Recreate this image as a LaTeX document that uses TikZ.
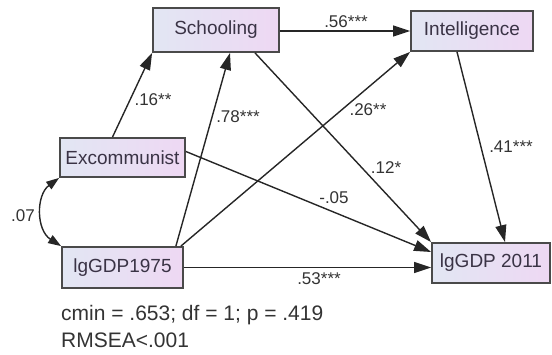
\documentclass[tikz,border=0pt]{standalone}
\usepackage{fontspec}
\setmainfont{Liberation Sans}
\usetikzlibrary{arrows.meta,calc}
\definecolor{boxl}{HTML}{E2E6F3}
\definecolor{boxr}{HTML}{EED8F3}
\definecolor{boxline}{HTML}{4A4A4A}
\definecolor{boxtext}{HTML}{3A3345}
\definecolor{labtext}{HTML}{333333}
\begin{document}
\begin{tikzpicture}[x=1pt,y=-1pt,
  var/.style={draw=boxline, line width=1.8pt, left color=boxl, right color=boxr,
    text=boxtext, font=\fontsize{19}{21}\selectfont, inner sep=0pt},
  path/.style={line width=1.4pt, draw=black!85, -{Triangle[length=17pt,width=11pt]}},
  cov/.style={line width=1.4pt, draw=black!85, {Triangle[length=13pt,width=9pt]}-{Triangle[length=13pt,width=9pt]}},
  lab/.style={text=labtext, font=\fontsize{17}{19}\selectfont, inner sep=0pt},
  fit/.style={text=labtext, font=\fontsize{21}{23}\selectfont, inner sep=0pt, anchor=west}]
\useasboundingbox (0,0) rectangle (552,354);
\node[var, minimum width=126pt, minimum height=44pt] (sch) at (216,30) {Schooling};
\node[var, minimum width=122pt, minimum height=40pt] (int) at (472,31) {Intelligence};
\node[var, minimum width=125pt, minimum height=39pt] (ex) at (122.5,157.5) {Excommunist};
\node[var, minimum width=121pt, minimum height=41pt] (g75) at (122.5,267.5) {lgGDP1975};
\node[var, minimum width=118pt, minimum height=40pt] (g11) at (491,263) {lgGDP 2011};

\draw[path] ([xshift=-10pt]ex.north) -- (sch.south west);
\draw[path] ([xshift=-8pt]g75.north east) -- ([xshift=14pt]sch.south);
\draw[path] ([xshift=-3pt]g75.north east) -- (int.south west);
\draw[path] (sch.east |- int.west) -- (int.west);
\draw[path] ([xshift=39pt]sch.south) -- (g11.north west);
\draw[path] ([xshift=-15pt]int.south) -- ([xshift=14pt]g11.north);
\draw[path] ([yshift=6pt]ex.east) -- ([yshift=11pt]g11.west);
\draw[path] (g75.east) -- (g75.east -| g11.west);
\draw[cov] (ex.south west) .. controls (36,195) and (36,230) .. (g75.north west);

\node[lab] (l16) at (153,100) {.16**};
\node[lab] (l78) at (238,117) {.78***};
\node[lab] (l56) at (346,22) {.56***};
\node[lab] (l26) at (368,110) {.26**};
\node[lab] (l12) at (386,168) {.12*};
\node[lab] (l41) at (511,147) {.41***};
\node[lab] (l05) at (334,198) {-.05};
\node[lab] (l53) at (319,279) {.53***};
\node[lab] (l07) at (23,216) {.07};

\node[fit] (fit1) at (61,315) {cmin = .653; df = 1; p = .419};
\node[fit] (fit2) at (61,340) {RMSEA<.001};
\end{tikzpicture}
\end{document}
